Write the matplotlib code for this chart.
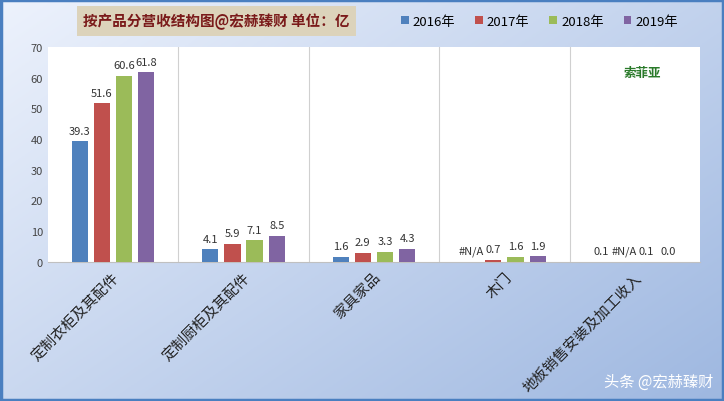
import numpy as np
import matplotlib
matplotlib.use("Agg")
import matplotlib.pyplot as plt
from matplotlib.patches import Rectangle

plt.rcParams['font.family'] = ['Noto Sans CJK SC', 'DejaVu Sans']
plt.rcParams['hatch.color'] = '#e0e0e0'
plt.rcParams['hatch.linewidth'] = 0.5

categories = ["定制衣柜及其配件", "定制厨柜及其配件", "家具家品", "木门", "地板销售安装及加工收入"]
years = ["2016年", "2017年", "2018年", "2019年"]
values = {
    "2016年": [39.3, 4.1, 1.6, np.nan, 0.1],
    "2017年": [51.6, 5.9, 2.9, 0.7, np.nan],
    "2018年": [60.6, 7.1, 3.3, 1.6, 0.1],
    "2019年": [61.8, 8.5, 4.3, 1.9, 0.0],
}
colors = ["#4f81bd", "#c0504d", "#9bbb59", "#8064a2"]

fig = plt.figure(figsize=(7.24, 4.02), dpi=100)
bg = fig.add_axes([0, 0, 1, 1], zorder=-10)
yy, xx = np.mgrid[0:1:200j, 0:1:200j]
t = np.clip(0.55 * xx + 0.45 * (1 - yy), 0, 1)
c0 = np.array([0.93, 0.95, 0.99]); c1 = np.array([0.62, 0.72, 0.88])
img = c0[None, None, :] * (1 - t[..., None]) + c1[None, None, :] * t[..., None]
bg.imshow(img, extent=[0, 1, 0, 1], aspect='auto', origin='lower')
bg.add_patch(Rectangle((0.002, 0.003), 0.996, 0.994, fill=False, ec='#4a7fc0', lw=2.5, transform=bg.transAxes))
bg.axis('off')

ax = fig.add_axes([0.066, 0.346, 0.901, 0.535])
ax.add_patch(Rectangle((0, 0), 1, 1, transform=ax.transAxes, fc='white', ec='none', hatch='\\\\\\\\', zorder=0))
ax.set_facecolor('none')
x = np.arange(len(categories))
bw = 0.125
step = 0.17
for i, (yr, col) in enumerate(zip(years, colors)):
    v = np.array(values[yr], dtype=float)
    pos = x + (i - 1.5) * step
    ax.bar(pos, np.nan_to_num(v), width=bw, color=col, zorder=3, label=yr)
    for p, val in zip(pos, v):
        lab = "#N/A" if np.isnan(val) else f"{val:.1f}"
        ax.text(p, (0 if np.isnan(val) else val) + 1.8, lab, ha='center', va='bottom', fontsize=8, color='#333333', zorder=4)
ax.set_xlim(-0.5, len(categories) - 0.5)
ax.set_ylim(0, 70)
ax.set_yticks(range(0, 71, 10))
ax.tick_params(axis='y', labelsize=8, colors='#444444', length=0)
ax.tick_params(axis='x', length=0, pad=6)
for k in range(1, len(categories)):
    ax.axvline(k - 0.5, color='#d0d0d0', lw=0.8, zorder=1)
for s in ax.spines.values():
    s.set_visible(False)
ax.spines['bottom'].set_visible(True); ax.spines['bottom'].set_color('#c0c0c0')
ax.set_xticks(x)
ax.set_xticklabels(categories, rotation=45, ha='right', rotation_mode='anchor', fontsize=10.5, color='#222222')

fig.text(0.115, 0.945, "按产品分营收结构图@宏赫臻财 单位：亿", fontsize=10.5, fontweight='bold', color='#7a1a1a',
         va='center', bbox=dict(boxstyle='square,pad=0.45', fc='#dcd3bb', ec='none'))
fig.legend(loc='center', bbox_to_anchor=(0.745, 0.945), ncol=4, frameon=False, fontsize=9.5,
           handlelength=0.6, handleheight=0.6, handletextpad=0.3, columnspacing=1.5)
ax.text(0.912, 0.88, "索菲亚", transform=ax.transAxes, ha='center', va='center', fontsize=9, fontweight='bold', color='#2a7a2a')
fig.text(0.985, 0.05, "头条 @宏赫臻财", ha='right', va='center', fontsize=11, color='white')
fig.savefig("out.png", dpi=100)
